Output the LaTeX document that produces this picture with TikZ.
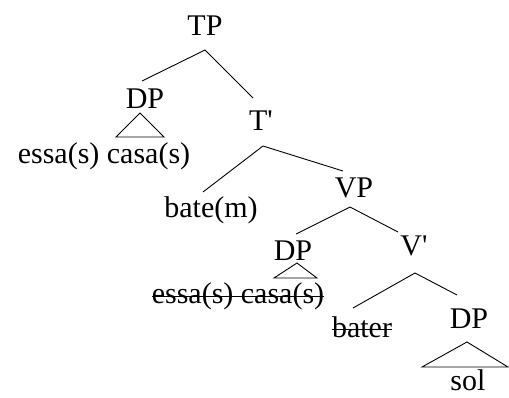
\documentclass[tikz,border=0pt]{standalone}
\usepackage{fontspec}
\setmainfont{Liberation Serif}
\begin{document}
\begin{tikzpicture}[x=1pt,y=-1pt,
  lab/.style={inner sep=0pt,anchor=base,font=\fontsize{30}{36}\selectfont},
  branch/.style={line width=0.9pt},
  strike/.style={line width=1.1pt}]
\useasboundingbox (0,0) rectangle (509,397);
% labels
\node[lab] (TP) at (205,35) {TP};
\node[lab] (DPa) at (145,108) {DP};
\node[lab] (essa) at (104,163) {essa(s) casa(s)};
\node[lab] (Tbar) at (261,130) {T\textquotesingle};
\node[lab] (bate) at (211,217) {bate(m)};
\node[lab] (VP) at (354,197) {VP};
\node[lab] (DPb) at (293,260) {DP};
\node[lab] (essb) at (238,303) {essa(s) casa(s)};
\node[lab] (Vbar) at (414,255) {V\textquotesingle};
\node[lab] (bater) at (362,337) {bater};
\node[lab] (DPc) at (469,328) {DP};
\node[lab] (sol) at (468,390) {sol};
% branch points
\coordinate (TPa) at (205,50);
\coordinate (DPat) at (142,81);
\coordinate (Tbart) at (253,98);
\coordinate (Tbara) at (263,146);
\coordinate (batet) at (203,192);
\coordinate (VPt) at (343,171);
\coordinate (VPa) at (350,207);
\coordinate (DPbt) at (296,234);
\coordinate (Vbart) at (398,232);
\coordinate (Vbara) at (415,273);
\coordinate (batert) at (353,308);
\coordinate (DPct) at (457,295);
% branches
\draw[branch] (DPat) -- (TPa) -- (Tbart);
\draw[branch] (batet) -- (Tbara) -- (VPt);
\draw[branch] (DPbt) -- (VPa) -- (Vbart);
\draw[branch] (batert) -- (Vbara) -- (DPct);
% triangles
\coordinate (triaA) at (140,113);
\coordinate (triaL) at (116,137);
\coordinate (triaR) at (164,137);
\draw[branch] (triaL) -- (triaA) -- (triaR) -- cycle;
\coordinate (tribA) at (297,263);
\coordinate (tribL) at (274,278);
\coordinate (tribR) at (317,278);
\draw[branch] (tribL) -- (tribA) -- (tribR) -- cycle;
\coordinate (tricA) at (467,342);
\coordinate (tricL) at (422,367);
\coordinate (tricR) at (508,367);
\draw[branch] (tricL) -- (tricA) -- (tricR) -- cycle;
% strike-throughs
\draw[strike] ([yshift=6.5pt]essb.base west) -- ([yshift=6.5pt]essb.base east);
\draw[strike] ([yshift=7.5pt]bater.base west) -- ([yshift=7.5pt]bater.base east);
\end{tikzpicture}
\end{document}
